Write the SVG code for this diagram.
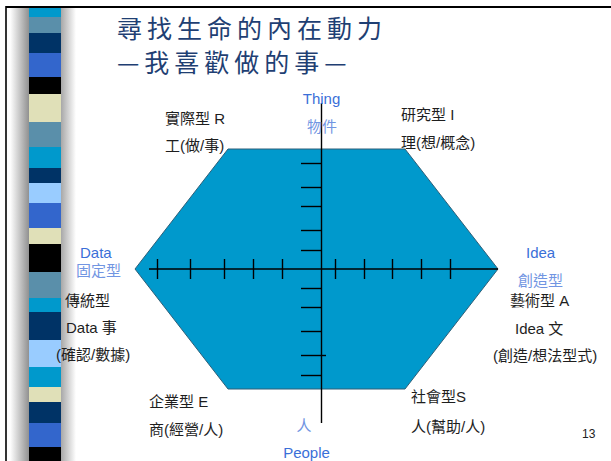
<svg xmlns="http://www.w3.org/2000/svg" width="611" height="461" viewBox="0 0 611 461">
<defs>
<linearGradient id="shade" x1="0" y1="0" x2="1" y2="0">
<stop offset="0" stop-color="#ffffff"/>
<stop offset="0.3" stop-color="#8c8c8c"/>
<stop offset="0.7" stop-color="#8c8c8c"/>
<stop offset="1" stop-color="#ffffff"/>
</linearGradient>
</defs>
<style>
.t{font-family:"Liberation Sans","Noto Sans CJK TC",sans-serif;font-size:15px;fill:#1e1e1e}
.b{font-family:"Liberation Sans","Noto Sans CJK TC",sans-serif;font-size:15px;fill:#3a6fd8}
.lb{font-family:"Liberation Sans","Noto Sans CJK TC",sans-serif;font-size:15px;fill:#7195e2}
.title{font-family:"Noto Sans CJK TC",sans-serif;font-size:25px;font-weight:400;fill:#1f3f73;letter-spacing:5px}
.ax{stroke:#000;stroke-width:1.4;fill:none}
</style>
<rect x="0" y="0" width="611" height="461" fill="#ffffff"/>
<g id="frame">
<line x1="6" y1="7" x2="611" y2="7" stroke="#000" stroke-width="2.2"/>
<line x1="6" y1="6" x2="6" y2="461" stroke="#000" stroke-width="1.6"/>
</g>
<g id="stripe">
<rect x="10" y="8" width="66" height="453" fill="url(#shade)"/>
<rect x="29" y="8" width="32" height="9" fill="#0099cc"/>
<rect x="29" y="17" width="32" height="16" fill="#5a8faa"/>
<rect x="29" y="33" width="32" height="20" fill="#003366"/>
<rect x="29" y="53" width="32" height="24" fill="#3366cc"/>
<rect x="29" y="77" width="32" height="17" fill="#000000"/>
<rect x="29" y="94" width="32" height="28" fill="#e0e0b8"/>
<rect x="29" y="122" width="32" height="25" fill="#5a8faa"/>
<rect x="29" y="147" width="32" height="21" fill="#0099cc"/>
<rect x="29" y="168" width="32" height="15" fill="#003366"/>
<rect x="29" y="183" width="32" height="20" fill="#99ccff"/>
<rect x="29" y="203" width="32" height="25" fill="#3366cc"/>
<rect x="29" y="228" width="32" height="16" fill="#e0e0b8"/>
<rect x="29" y="244" width="32" height="28" fill="#000000"/>
<rect x="29" y="272" width="32" height="26" fill="#5a8faa"/>
<rect x="29" y="298" width="32" height="14" fill="#0099cc"/>
<rect x="29" y="312" width="32" height="28" fill="#003366"/>
<rect x="29" y="340" width="32" height="27" fill="#99ccff"/>
<rect x="29" y="367" width="32" height="20" fill="#0099cc"/>
<rect x="29" y="387" width="32" height="15" fill="#e0e0b8"/>
<rect x="29" y="402" width="32" height="21" fill="#003366"/>
<rect x="29" y="423" width="32" height="24" fill="#3366cc"/>
<rect x="29" y="447" width="32" height="14" fill="#000000"/>
</g>
<g id="title">
<text class="title" x="117" y="38">尋找生命的內在動力</text>
<text class="title" x="117" y="72">—我喜歡做的事—</text>
</g>
<g id="hexagon">
<polygon points="228,149 405,149 498,269 405,389 228,389 135,269" fill="#0099cc" stroke="#2e5f78" stroke-width="1"/>
</g>
<g id="connectors">
<line class="ax" x1="321.5" y1="103" x2="321.5" y2="423"/>
<line class="ax" x1="149" y1="269" x2="498" y2="269"/>
<g class="ax">
<line x1="157.5" y1="259" x2="157.5" y2="279"/>
<line x1="190.5" y1="259" x2="190.5" y2="279"/>
<line x1="224.5" y1="259" x2="224.5" y2="279"/>
<line x1="253.5" y1="259" x2="253.5" y2="279"/>
<line x1="282.5" y1="259" x2="282.5" y2="279"/>
<line x1="335.5" y1="259" x2="335.5" y2="279"/>
<line x1="364.5" y1="259" x2="364.5" y2="279"/>
<line x1="392.5" y1="259" x2="392.5" y2="279"/>
<line x1="421.5" y1="259" x2="421.5" y2="279"/>
<line x1="450.5" y1="259" x2="450.5" y2="279"/>
<line x1="301" y1="163.5" x2="321.5" y2="163.5"/>
<line x1="301" y1="187.5" x2="321.5" y2="187.5"/>
<line x1="301" y1="206.5" x2="321.5" y2="206.5"/>
<line x1="301" y1="230.5" x2="321.5" y2="230.5"/>
<line x1="301" y1="250.5" x2="321.5" y2="250.5"/>
<line x1="301" y1="288.5" x2="321.5" y2="288.5"/>
<line x1="301" y1="307.5" x2="321.5" y2="307.5"/>
<line x1="301" y1="331.5" x2="321.5" y2="331.5"/>
<line x1="301" y1="355.5" x2="326" y2="355.5"/>
<line x1="301" y1="375.5" x2="321.5" y2="375.5"/>
</g>
</g>
<g id="top-labels">
<text class="b" x="321.5" y="104" text-anchor="middle">Thing</text>
<text class="lb" x="322" y="132" text-anchor="middle">物件</text>
</g>
<g id="label-R">
<text class="t" x="165" y="124">實際型 R</text>
<text class="t" x="165" y="151">工(做/事)</text>
</g>
<g id="label-I">
<text class="t" x="401" y="120">研究型 I</text>
<text class="t" x="401" y="148">理(想/概念)</text>
</g>
<g id="label-data">
<text class="b" x="80" y="258">Data</text>
<text class="lb" x="76" y="276">固定型</text>
</g>
<g id="label-C">
<text class="t" x="65" y="306">傳統型</text>
<text class="t" x="66" y="333">Data 事</text>
<text class="t" x="56" y="360">(確認/數據)</text>
</g>
<g id="label-idea">
<text class="b" x="526" y="258">Idea</text>
<text class="lb" x="518" y="286">創造型</text>
</g>
<g id="label-A">
<text class="t" x="510" y="306">藝術型 A</text>
<text class="t" x="515" y="334">Idea 文</text>
<text class="t" x="493" y="361">(創造/想法型式)</text>
</g>
<g id="label-E">
<text class="t" x="149" y="407">企業型 E</text>
<text class="t" x="149" y="435">商(經營/人)</text>
</g>
<g id="label-S">
<text class="t" x="411" y="402">社會型S</text>
<text class="t" x="411" y="432">人(幫助/人)</text>
</g>
<g id="bottom-labels">
<text class="lb" x="304" y="431" text-anchor="middle">人</text>
<text class="b" x="306.5" y="458" text-anchor="middle">People</text>
</g>
<text x="582" y="438" font-family="Liberation Sans, sans-serif" font-size="12" fill="#222">13</text>
</svg>
